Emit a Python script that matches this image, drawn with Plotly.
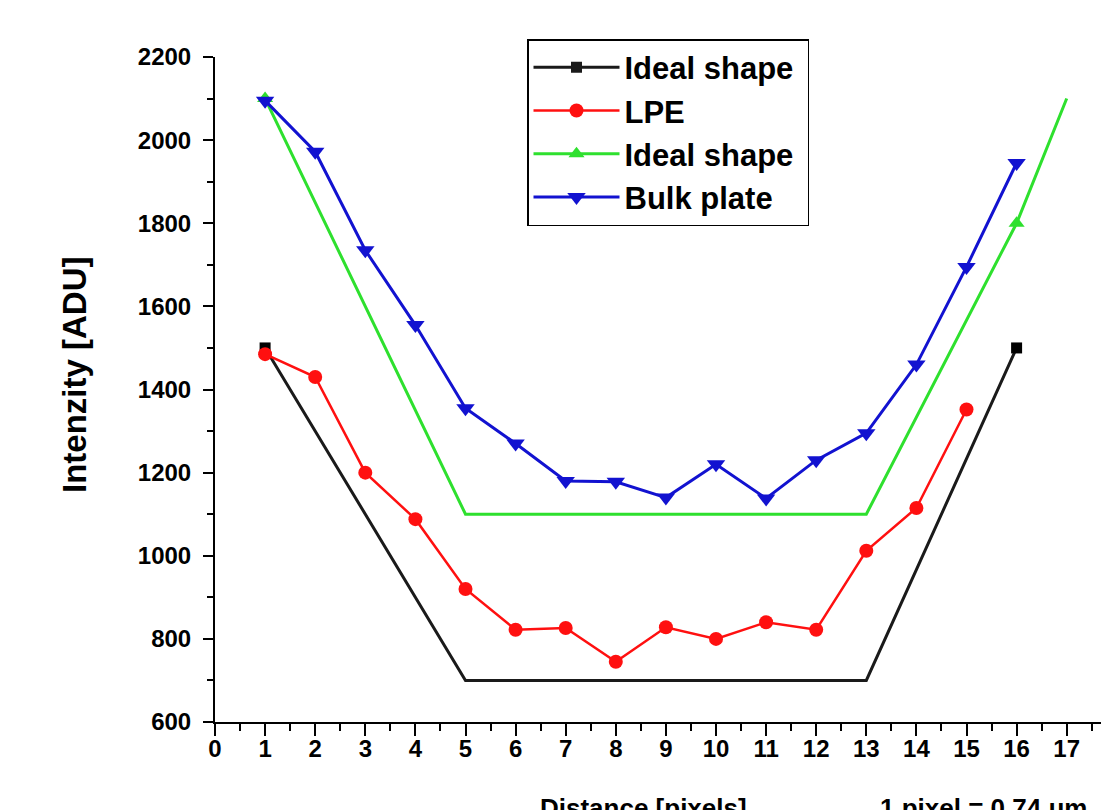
import plotly.graph_objects as go

# ---- data ----
ideal1_x = [1, 5, 13, 16]
ideal1_y = [1500, 700, 700, 1500]
ideal1_marked = [0, 3]          # indices that carry a marker

lpe_x = [1, 2, 3, 4, 5, 6, 7, 8, 9, 10, 11, 12, 13, 14, 15]
lpe_y = [1485, 1430, 1200, 1088, 920, 822, 826, 745, 828, 800, 840, 822, 1012, 1115, 1352]

ideal2_x = [1, 5, 13, 16, 17]
ideal2_y = [2100, 1100, 1100, 1800, 2100]
ideal2_marked = [0, 3]

bulk_x = [1, 2, 3, 4, 5, 6, 7, 8, 9, 10, 11, 12, 13, 14, 15, 16]
bulk_y = [2095, 1972, 1735, 1555, 1355, 1270, 1180, 1178, 1140, 1220, 1138, 1230, 1295, 1460, 1695, 1945]

names = ["Ideal shape", "LPE", "Ideal shape", "Bulk plate"]
x_ticks = list(range(0, 19))
y_ticks = list(range(600, 2201, 200))

# ---- styles ----
BLACK = "#1a1a1a"
RED = "#ff1010"
GREEN = "#2ee02e"
BLUE = "#1212d0"
FONT = "Liberation Sans, Arial, sans-serif"

fig = go.Figure()

# Ideal shape (black)
fig.add_trace(go.Scatter(x=ideal1_x, y=ideal1_y, mode="lines",
                         line=dict(color=BLACK, width=3), showlegend=False))
fig.add_trace(go.Scatter(x=[ideal1_x[i] for i in ideal1_marked],
                         y=[ideal1_y[i] for i in ideal1_marked], mode="markers",
                         marker=dict(symbol="square", size=11, color="black"),
                         showlegend=False))
# LPE (red)
fig.add_trace(go.Scatter(x=lpe_x, y=lpe_y, mode="lines+markers",
                         line=dict(color=RED, width=2.5),
                         marker=dict(symbol="circle", size=14, color=RED),
                         showlegend=False))
# Ideal shape (green)
fig.add_trace(go.Scatter(x=ideal2_x, y=ideal2_y, mode="lines",
                         line=dict(color=GREEN, width=3), showlegend=False))
fig.add_trace(go.Scatter(x=[ideal2_x[i] for i in ideal2_marked],
                         y=[ideal2_y[i] for i in ideal2_marked], mode="markers",
                         marker=dict(symbol="triangle-up", size=14, color=GREEN),
                         showlegend=False))
# Bulk plate (blue)
fig.add_trace(go.Scatter(x=bulk_x, y=bulk_y, mode="lines+markers",
                         line=dict(color=BLUE, width=3),
                         marker=dict(symbol="triangle-down", size=16, color=BLUE),
                         showlegend=False))

# legend entries
legend_styles = [
    (BLACK, "square", 11, 3),
    (RED, "circle", 14, 2.5),
    (GREEN, "triangle-up", 14, 3),
    (BLUE, "triangle-down", 16, 3),
]
for nm, (c, sym, sz, lw) in zip(names, legend_styles):
    fig.add_trace(go.Scatter(x=[None], y=[None], mode="lines+markers",
                             name=nm + "\u00a0",
                             line=dict(color=c, width=lw),
                             marker=dict(symbol=sym, size=sz, color=c)))

axis_font = dict(family=FONT, size=24, color="black", weight="bold")

# page has an 8px body margin; margins compensate so the plot area sits at
# x=215..(edge), y=57..722 in the browser window
fig.update_layout(
    width=1109, height=810,
    margin=dict(l=207, r=0, t=49, b=96),
    paper_bgcolor="white", plot_bgcolor="white",
    showlegend=True,
    legend=dict(x=(519 - 207) / 902, y=1.027, xanchor="left", yanchor="top",
                bgcolor="white", bordercolor="black", borderwidth=1.5,
                font=dict(family=FONT, size=31, color="black", weight="bold"),
                itemwidth=86, tracegroupgap=0),
    xaxis=dict(range=[0, 902 / 50.1], tickvals=x_ticks, ticks="outside", ticklen=12,
               tickwidth=2, tickcolor="black", showline=True, linewidth=2,
               linecolor="black", showgrid=False, zeroline=False,
               tickfont=axis_font, ticklabelstandoff=-8,
               minor=dict(dtick=0.5, ticks="outside", ticklen=7, tickwidth=2,
                          tickcolor="black", showgrid=False)),
    yaxis=dict(range=[600, 2200], tickvals=y_ticks, ticks="outside", ticklen=10,
               tickwidth=2, tickcolor="black", showline=True, linewidth=2,
               linecolor="black", showgrid=False, zeroline=False,
               tickfont=axis_font, ticklabelstandoff=7,
               minor=dict(dtick=100, ticks="outside", ticklen=6, tickwidth=2,
                          tickcolor="black", showgrid=False)),
    annotations=[
        dict(text="Intenzity [ADU]", textangle=-90, xref="paper", yref="paper",
             x=(66 - 207) / 902, y=(714 - 367) / 665, xanchor="center",
             yanchor="middle", showarrow=False,
             font=dict(family=FONT, size=33, color="black", weight="bold")),
        dict(text="Distance [pixels]", xref="paper", yref="paper",
             x=(635 - 207) / 902, y=0, xanchor="center", yanchor="top",
             yshift=-69, showarrow=False,
             font=dict(family=FONT, size=26, color="black", weight="bold")),
        dict(text="1 pixel = 0.74 \u03bcm", xref="paper", yref="paper",
             x=(870 - 207) / 902, y=0, xanchor="left", yanchor="top",
             yshift=-69, showarrow=False,
             font=dict(family=FONT, size=26, color="black", weight="bold")),
    ],
)

fig.write_html("out.html")
